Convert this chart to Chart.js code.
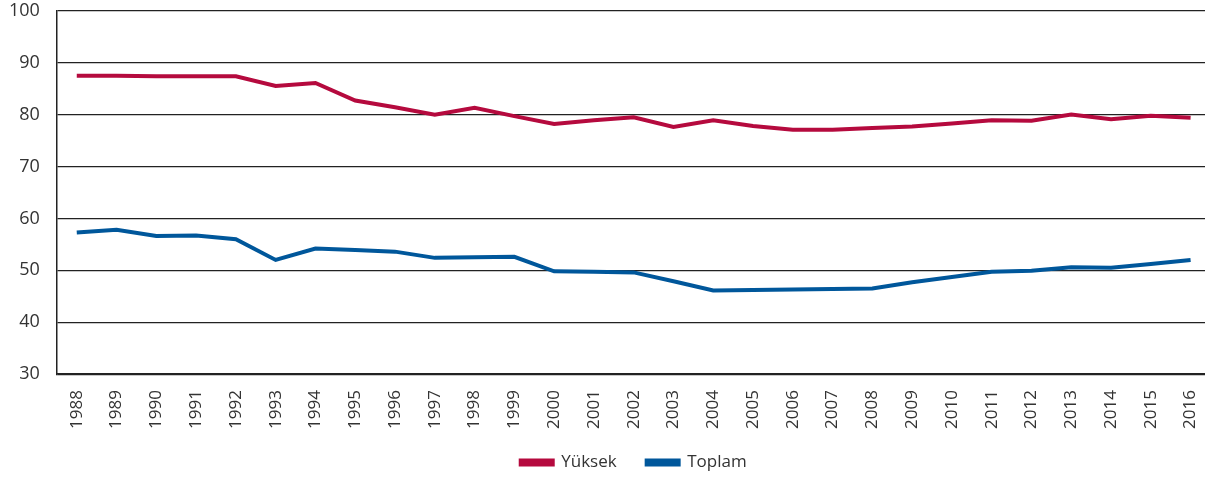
<!DOCTYPE html>
<html>
<head>
<meta charset="utf-8">
<script src="https://cdn.jsdelivr.net/npm/chart.js@4.4.1/dist/chart.umd.min.js"></script>
<style>
  html, body { margin: 0; padding: 0; background: #fff; overflow: hidden; }
  #wrap { width: 1211px; height: 477px; }
</style>
</head>
<body>
<div id="wrap"><canvas id="chart"></canvas></div>
<script>
const years = [
  "1988", "1989", "1990", "1991", "1992", "1993", "1994", "1995", "1996", "1997",
  "1998", "1999", "2000", "2001", "2002", "2003", "2004", "2005", "2006", "2007",
  "2008", "2009", "2010", "2011", "2012", "2013", "2014", "2015", "2016",
];
const yuksek = [
  87.5, 87.5, 87.4, 87.4, 87.4, 85.5, 86.1, 82.7, 81.4, 80.0,
  81.3, 79.7, 78.2, 78.9, 79.5, 77.6, 78.9, 77.8, 77.1, 77.1,
  77.4, 77.7, 78.3, 78.9, 78.8, 80.0, 79.1, 79.8, 79.4,
];
const toplam = [
  57.3, 57.8, 56.6, 56.7, 56.0, 52.0, 54.2, 53.9, 53.6, 52.4,
  52.5, 52.6, 49.8, 49.7, 49.6, 47.9, 46.1, 46.2, 46.3, 46.4,
  46.5, 47.7, 48.7, 49.7, 49.9, 50.6, 50.5, 51.2, 52.0,
];
const yTicks = [30, 40, 50, 60, 70, 80, 90, 100];

const red = "#b50a3e";
const blue = "#00579b";
const font = "'Open Sans', 'Noto Sans', sans-serif";

// legend keeps its wide item padding but sits a bit closer to the year labels
const nudgeLegend = {
  id: "nudgeLegend",
  afterLayout(chart) {
    const lg = chart.legend;
    if (!lg) return;
    lg.top -= 5;
    lg.bottom -= 5;
  },
};

new Chart(document.getElementById("chart"), {
  type: "line",
  data: {
    labels: years,
    datasets: [
      {
        label: "Yüksek",
        data: yuksek,
        borderColor: red,
        backgroundColor: red,
        borderWidth: 4,
        pointRadius: 0,
        tension: 0,
      },
      {
        label: "Toplam",
        data: toplam,
        borderColor: blue,
        backgroundColor: blue,
        borderWidth: 4,
        pointRadius: 0,
        tension: 0,
      },
    ],
  },
  plugins: [nudgeLegend],
  options: {
    responsive: true,
    maintainAspectRatio: false,
    animation: false,
    layout: { padding: { top: -3, right: 0, bottom: -9, left: 9 } },
    plugins: {
      tooltip: { enabled: false },
      legend: {
        position: "bottom",
        fullSize: false,
        labels: {
          color: "#333",
          font: { family: font, size: 17 },
          boxWidth: 32,
          boxHeight: 4,
          padding: 30,
        },
      },
    },
    scales: {
      x: {
        offset: true,
        grid: {
          display: true,
          drawOnChartArea: false,
          drawTicks: true,
          tickLength: 16,
          tickColor: "rgba(0,0,0,0)",
        },
        border: { color: "#222", width: 1.5 },
        ticks: {
          color: "#333",
          font: { family: font, size: 17 },
          minRotation: 90,
          maxRotation: 90,
          autoSkip: false,
          padding: 0,
        },
      },
      y: {
        min: yTicks[0],
        max: yTicks[yTicks.length - 1],
        afterBuildTicks: (axis) => {
          axis.ticks = yTicks.map((v) => ({ value: v }));
        },
        grid: {
          color: "#222",
          lineWidth: 1.2,
          drawTicks: true,
          tickLength: 17,
          tickColor: "rgba(0,0,0,0)",
        },
        border: { color: "#222", width: 1.5 },
        ticks: {
          color: "#333",
          font: { family: font, size: 18 },
          padding: 0,
        },
      },
    },
  },
});
</script>
</body>
</html>
